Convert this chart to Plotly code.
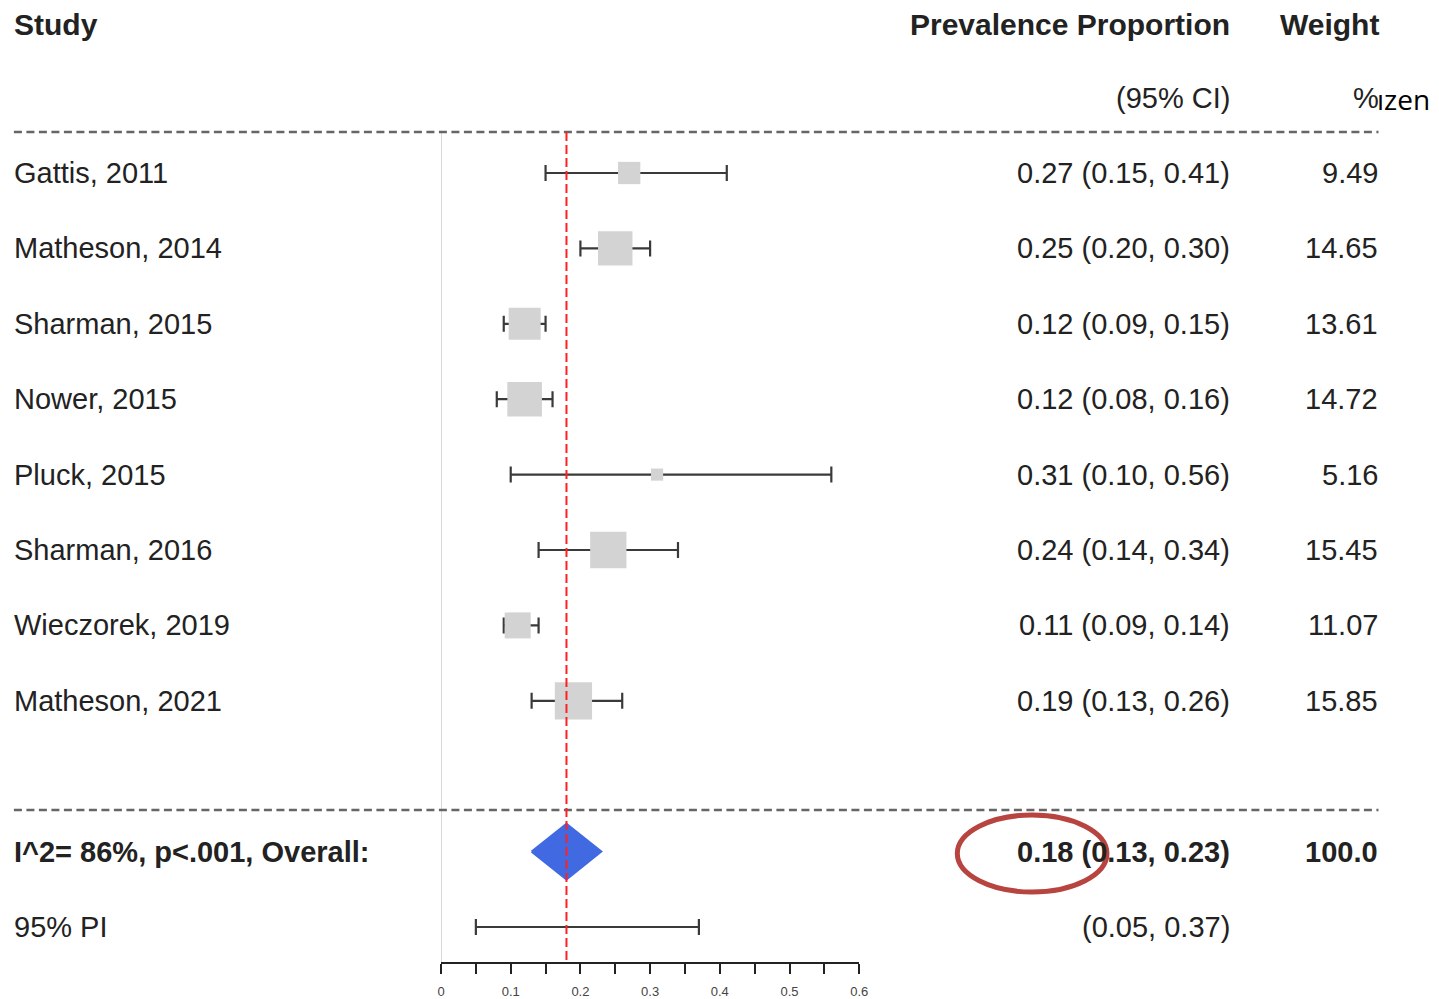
import plotly.graph_objects as go

# ---------------- data ----------------
studies = ["Gattis, 2011", "Matheson, 2014", "Sharman, 2015", "Nower, 2015",
           "Pluck, 2015", "Sharman, 2016", "Wieczorek, 2019", "Matheson, 2021"]
estimates = [0.27, 0.25, 0.12, 0.12, 0.31, 0.24, 0.11, 0.19]
ci_low = [0.15, 0.20, 0.09, 0.08, 0.10, 0.14, 0.09, 0.13]
ci_high = [0.41, 0.30, 0.15, 0.16, 0.56, 0.34, 0.14, 0.26]
weights = [9.49, 14.65, 13.61, 14.72, 5.16, 15.45, 11.07, 15.85]

overall_est = 0.18
overall_low = 0.13
overall_high = 0.23
pi_low = 0.05
pi_high = 0.37
overall_label = "I^2= 86%, p<.001, Overall:"
overall_weight = "100.0"

tick_vals = [0, 0.1, 0.2, 0.3, 0.4, 0.5, 0.6]
tick_text = ["0", "0.1", "0.2", "0.3", "0.4", "0.5", "0.6"]

# ---------------- layout helpers ----------------
W, H = 1439, 999
rows = list(range(len(studies)))
overall_row = len(studies) + 1
pi_row = overall_row + 1

TXT = "#222222"
FONT = "Liberation Sans, Arial, sans-serif"
FS = 29
BAR = "#3a3a3a"

fig = go.Figure()

# CI bars (drawn first so the squares cover them)
fig.add_trace(go.Scatter(
    x=estimates, y=rows, mode="markers",
    marker=dict(size=1, color="rgba(0,0,0,0)"),
    error_x=dict(type="data", symmetric=False,
                 array=[h - e for h, e in zip(ci_high, estimates)],
                 arrayminus=[e - l for e, l in zip(estimates, ci_low)],
                 color=BAR, thickness=2.2, width=8),
    hoverinfo="skip", showlegend=False,
))

# study squares
fig.add_trace(go.Scatter(
    x=estimates, y=rows, mode="markers",
    marker=dict(symbol="square", color="#d3d3d3", opacity=1,
                size=[w * 2.35 for w in weights], line=dict(width=0)),
    hoverinfo="skip", showlegend=False,
))

# prediction interval
pi_mid = (pi_low + pi_high) / 2
fig.add_trace(go.Scatter(
    x=[pi_mid], y=[pi_row], mode="markers",
    marker=dict(size=1, color="rgba(0,0,0,0)"),
    error_x=dict(type="data", symmetric=False,
                 array=[pi_high - pi_mid], arrayminus=[pi_mid - pi_low],
                 color=BAR, thickness=2.2, width=8),
    hoverinfo="skip", showlegend=False,
))

# overall diamond
dh = 0.37
fig.add_trace(go.Scatter(
    x=[overall_low, overall_est, overall_high, overall_est, overall_low],
    y=[overall_row, overall_row - dh, overall_row, overall_row + dh, overall_row],
    mode="lines", fill="toself", fillcolor="#4169e1",
    line=dict(color="#4169e1", width=2),
    hoverinfo="skip", showlegend=False,
))

y_top = -173 / 75.4
y_bot = (962 - 173) / 75.4
line_top = (132 - 173) / 75.4
line_mid = (810 - 173) / 75.4

shapes = []
# horizontal dashed separators
for yy in (line_top, line_mid):
    shapes.append(dict(type="line", xref="paper", yref="y",
                       x0=10 / W, x1=1387 / W, y0=yy, y1=yy,
                       line=dict(color="#666666", width=2.5, dash="8px,4.5px")))
# vertical zero line
shapes.append(dict(type="line", xref="x", yref="y", x0=0, x1=0,
                   y0=line_top, y1=y_bot, line=dict(color="#cccccc", width=1.5),
                   layer="below"))
# red dashed overall line
shapes.append(dict(type="line", xref="x", yref="y", x0=overall_est, x1=overall_est,
                   y0=line_top, y1=y_bot,
                   line=dict(color="#ff2020", width=2, dash="9px,4px")))
# red ellipse highlight
shapes.append(dict(type="circle", xref="paper", yref="paper",
                   x0=962 / W, x1=1113 / W, y0=1 - 892 / H, y1=1 - 815 / H,
                   line=dict(color="#b84440", width=5)))

annotations = []


def add_text(text, xpx, row, anchor, bold=False, size=FS, color=TXT, family=FONT):
    annotations.append(dict(
        text=f"<b>{text}</b>" if bold else text,
        xref="paper", yref="y", x=xpx / W, y=row,
        xanchor=anchor, yanchor="middle", showarrow=False,
        font=dict(family=family, size=size, color=color)))


LX, CX, WX = 8, 1239, 1389

# headers
add_text("Study", LX, -1.976, "left", bold=True, size=30)
add_text("Prevalence Proportion", CX, -1.976, "right", bold=True, size=30)
add_text("Weight", WX + 1, -1.976, "right", bold=True, size=30)
add_text("(95% CI)", CX, -0.995, "right")
add_text("%", WX + 1, -0.995, "right")
add_text("ızen", 1384, -0.98, "left", size=28, color="#000000",
         family="Open Sans, sans-serif")

for r, name, e, lo, hi, w in zip(rows, studies, estimates, ci_low, ci_high, weights):
    add_text(name, LX, r, "left")
    add_text(f"{e:.2f} ({lo:.2f}, {hi:.2f})", CX, r, "right")
    add_text(f"{w:.2f}", WX, r, "right")

add_text(overall_label, LX, overall_row, "left", bold=True)
add_text(f"{overall_est:.2f} ({overall_low:.2f}, {overall_high:.2f})", CX,
         overall_row, "right", bold=True)
add_text(overall_weight, WX, overall_row, "right", bold=True)
add_text("95% PI", LX, pi_row, "left")
add_text(f"({pi_low:.2f}, {pi_high:.2f})", CX, pi_row, "right")

fig.update_layout(
    width=W, height=H,
    margin=dict(l=0, r=0, t=0, b=0),
    paper_bgcolor="white", plot_bgcolor="white",
    showlegend=False,
    shapes=shapes, annotations=annotations,
    xaxis=dict(domain=[441 / W, 863 / W], range=[0, 0.6],
               showgrid=False, zeroline=False,
               showline=True, linecolor="#222222", linewidth=2,
               ticks="outside", ticklen=10, tickwidth=2, tickcolor="#222222",
               tickvals=tick_vals, ticktext=tick_text, ticklabelstandoff=6,
               tickfont=dict(family=FONT, size=13, color="#444444"),
               minor=dict(dtick=0.05, tick0=0, ticks="outside", ticklen=10,
                          tickwidth=2, tickcolor="#222222", showgrid=False),
               fixedrange=True),
    yaxis=dict(domain=[37 / H, 1], range=[y_bot, y_top],
               showgrid=False, zeroline=False, showline=False,
               showticklabels=False, ticks="", fixedrange=True),
)

fig.write_html(
    "out.html",
    config={"displayModeBar": False},
    post_script="document.body.style.margin='0';document.body.style.overflow='hidden';",
)
